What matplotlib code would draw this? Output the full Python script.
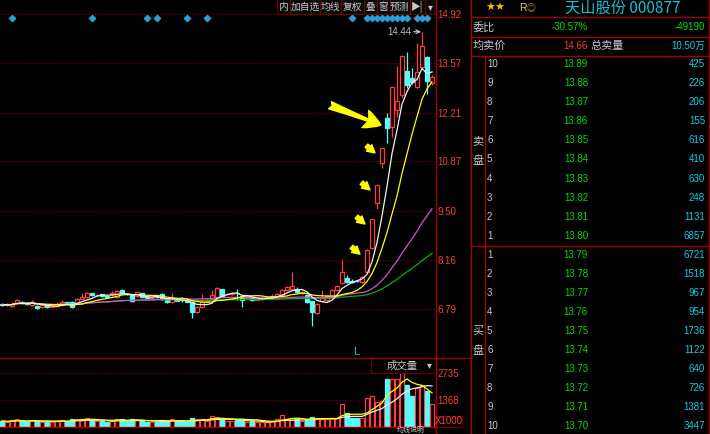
import numpy as np
import pandas as pd
import matplotlib
matplotlib.use("Agg")
import matplotlib.pyplot as plt
from matplotlib.patches import Rectangle

plt.rcParams['font.family'] = ['Noto Sans CJK SC', 'DejaVu Sans']
NUM = ['Liberation Sans', 'Noto Sans CJK SC', 'DejaVu Sans']

# daily candles, oldest first
opens = [6.93, 6.90, 6.88, 6.96, 7.00, 6.96, 6.90, 6.88, 6.85, 6.90,
         6.86, 6.89, 6.90, 6.98, 6.99, 6.96, 7.08, 7.12, 7.23, 7.18,
         7.20, 7.17, 7.21, 7.12, 7.32, 7.22, 7.18, 7.15, 7.23, 7.13,
         7.11, 7.13, 7.21, 7.04, 6.99, 7.06, 7.05, 7.04, 6.99, 6.71,
         6.85, 7.02, 7.07, 7.12, 7.34, 7.20, 7.21, 7.24, 7.15, 7.10,
         7.10, 7.06, 7.08, 7.11, 7.14, 7.15, 7.18, 7.32, 7.35, 7.35,
         7.24, 7.18, 7.01, 6.68, 7.01, 7.04, 7.12, 7.32, 7.51, 7.65,
         7.58, 7.58, 7.54, 7.81, 8.47, 9.71, 10.82, 12.05, 11.81, 12.28,
         12.69, 13.35, 13.16, 12.91, 13.46, 13.74, 13.02]
highs = [6.95, 6.96, 7.00, 7.08, 7.02, 6.98, 7.04, 6.90, 6.92, 6.92,
         6.90, 7.00, 7.04, 7.00, 7.01, 7.09, 7.23, 7.28, 7.25, 7.22,
         7.22, 7.19, 7.30, 7.31, 7.36, 7.24, 7.20, 7.28, 7.25, 7.15,
         7.15, 7.16, 7.24, 7.06, 7.23, 7.08, 7.12, 7.06, 7.01, 6.88,
         7.21, 7.10, 7.32, 7.40, 7.36, 7.24, 7.27, 7.34, 7.17, 7.15,
         7.12, 7.10, 7.16, 7.15, 7.20, 7.23, 7.34, 7.42, 7.81, 7.40,
         7.30, 7.20, 7.03, 6.96, 7.32, 7.18, 7.34, 7.46, 8.16, 7.74,
         7.62, 7.60, 7.70, 8.44, 9.27, 10.21, 11.23, 12.19, 12.93, 13.49,
         13.78, 13.87, 13.43, 14.12, 14.44, 13.76, 13.25]
lows = [6.88, 6.88, 6.86, 6.94, 6.94, 6.90, 6.88, 6.80, 6.83, 6.83,
        6.84, 6.86, 6.88, 6.94, 6.82, 6.94, 7.06, 7.10, 7.16, 7.14,
        7.14, 7.12, 7.16, 7.10, 7.21, 7.18, 6.99, 7.13, 7.10, 7.09,
        7.09, 7.10, 7.04, 6.97, 6.96, 7.01, 6.98, 6.98, 6.55, 6.68,
        6.83, 7.00, 7.05, 7.10, 7.13, 7.18, 7.19, 7.04, 6.85, 7.08,
        7.02, 7.04, 7.06, 7.09, 7.10, 7.13, 7.16, 7.30, 7.33, 7.24,
        7.22, 6.97, 6.33, 6.65, 6.99, 7.02, 7.10, 7.30, 7.48, 7.52,
        7.52, 7.53, 7.52, 7.79, 8.45, 9.55, 10.68, 11.37, 11.53, 12.08,
        12.60, 12.90, 13.00, 12.88, 13.40, 12.72, 12.98]
closes = [6.90, 6.93, 6.93, 7.04, 6.96, 6.93, 6.99, 6.82, 6.90, 6.85,
          6.88, 6.90, 6.99, 6.96, 6.85, 7.07, 7.12, 7.23, 7.18, 7.18,
          7.17, 7.14, 7.24, 7.29, 7.23, 7.20, 7.01, 7.26, 7.12, 7.11,
          7.13, 7.12, 7.07, 6.99, 7.10, 7.03, 7.04, 7.00, 6.71, 6.85,
          6.99, 7.05, 7.18, 7.37, 7.15, 7.21, 7.24, 7.23, 7.04, 7.12,
          7.04, 7.08, 7.10, 7.12, 7.15, 7.21, 7.32, 7.40, 7.43, 7.26,
          7.27, 6.99, 6.71, 6.93, 7.10, 7.15, 7.32, 7.43, 7.81, 7.54,
          7.55, 7.56, 7.68, 8.42, 9.27, 10.21, 11.23, 11.78, 12.91, 12.52,
          13.76, 12.96, 13.05, 13.32, 14.04, 13.07, 13.18]
volumes = [300, 260, 330, 380, 280, 250, 350, 320, 260, 280,
           240, 300, 360, 270, 380, 420, 400, 450, 330, 300,
           280, 260, 300, 400, 380, 290, 380, 360, 340, 250,
           240, 260, 350, 300, 380, 280, 300, 260, 450, 380,
           420, 300, 560, 520, 420, 300, 280, 350, 400, 260,
           280, 230, 250, 240, 280, 380, 600, 420, 455, 380,
           300, 400, 500, 420, 420, 380, 450, 450, 1165, 710,
           455, 455, 455, 1470, 1570, 1265, 1315, 2430, 2430, 2430,
           2735, 2125, 1570, 1950, 2150, 1820, 1165]

price_ticks = [14.92, 13.57, 12.21, 10.87, 9.50, 8.16, 6.79]
vol_ticks = [2735, 1368]
signal_days = [2, 18, 29, 31, 37, 41, 70, 73, 74, 75, 76, 77, 78, 79, 80, 81, 83, 84, 85]
arrow_days = [73, 74, 75, 76]
big_arrow_day = 77

toolbar = ["内", "加自选", "均线", "复权", "叠", "窗", "预测", "▶|", "▾"]
stock_name = "天山股份 000877"
wei_bi, wei_cha = "-30.57%", "-49190"
avg_ask, total_ask = "14.66", "10.50万"
ask_levels = [10, 9, 8, 7, 6, 5, 4, 3, 2, 1]
ask_prices = [13.89, 13.88, 13.87, 13.86, 13.85, 13.84, 13.83, 13.82, 13.81, 13.80]
ask_vols = [425, 226, 206, 155, 616, 410, 630, 248, 1131, 6857]
bid_levels = [1, 2, 3, 4, 5, 6, 7, 8, 9, 10]
bid_prices = [13.79, 13.78, 13.77, 13.76, 13.75, 13.74, 13.73, 13.72, 13.71, 13.70]
bid_vols = [6721, 1518, 967, 954, 1736, 1122, 640, 726, 1381, 3447]

W, H = 710, 434
RED = '#ff3c3c'
CYAN = '#54fcfc'
LINE = '#a00000'
DOT = '#7a0000'
GREEN_TXT = '#00dc00'
CYAN_TXT = '#18c8e6'
GRAY = '#c8c8c8'

fig = plt.figure(figsize=(W / 100, H / 100), dpi=100, facecolor='black')


def box(x0, y0, x1, y1):
    return [x0 / W, 1 - y1 / H, (x1 - x0) / W, (y1 - y0) / H]


ax = fig.add_axes(box(0, 0, 435, 358))
axv = fig.add_axes(box(0, 358, 435, 427))
for a in (ax, axv):
    a.set_facecolor('black')
    for s in a.spines.values():
        s.set_visible(False)
    a.set_xticks([])
    a.yaxis.tick_right()
    a.tick_params(axis='y', length=0, pad=2, labelcolor=RED, labelsize=7)

n = len(closes)
x = np.arange(n)
o, h, l, c = map(np.array, (opens, highs, lows, closes))
up = c >= o

# price scale: 14.92 sits on pixel row 14.3, 6.79 on row 309.3
ppy = (309.3 - 14.3) / (price_ticks[0] - price_ticks[-1])
ax.set_ylim(price_ticks[-1] - (358 - 309.3) / ppy, price_ticks[0] + 14.3 / ppy)
ax.set_xlim(-0.4, n - 0.4)
ax.set_yticks(price_ticks)
ax.set_yticklabels([f'{t:.2f}' for t in price_ticks], fontfamily=NUM)
for t in price_ticks:
    ax.axhline(t, color=DOT, lw=0.8, ls=(0, (1, 1.5)), zorder=1)

# candles: hollow red up days, solid cyan down days
ax.vlines(x, l, h, colors=np.where(up, RED, CYAN), lw=0.9, zorder=2)
body = np.maximum(np.abs(c - o), 0.01)
ax.bar(x, body, bottom=np.minimum(o, c), width=0.78,
       color=np.where(up, 'black', CYAN), edgecolor=np.where(up, RED, CYAN), lw=0.9, zorder=3)

cs = pd.Series(closes)
for w, col in [(60, '#00b400'), (30, '#d850d8'), (10, '#ffff00'), (5, '#f0f0f0')]:
    ax.plot(x, cs.rolling(w, min_periods=1).mean(), color=col, lw=0.9, zorder=4)

diamond_y = price_ticks[0] - (17.5 - 14.3) / ppy
ax.scatter(signal_days, [diamond_y] * len(signal_days), marker='D', s=10, color='#2a9fd6', zorder=5)

imax = int(np.argmax(h))
ax.annotate(f'{h[imax]:.2f}', xy=(imax - 0.2, h[imax]), xytext=(imax - 2.2, h[imax]),
            ha='right', va='center', color='#b0b8c8', fontsize=7, fontfamily=NUM,
            arrowprops=dict(arrowstyle='->', color='#d0d0d0', lw=0.8, shrinkA=0, shrinkB=0))

for d in arrow_days:
    ax.annotate('', xy=(d - 1.4, h[d] - 0.13), xytext=(d - 3.1, h[d] + 0.07),
                arrowprops=dict(arrowstyle='simple,head_length=0.5,head_width=0.55,tail_width=0.28',
                                color='#ffff00', mutation_scale=11, shrinkA=0, shrinkB=0), zorder=6)
bd = big_arrow_day
ax.annotate('', xy=(bd - 1.2, (o[bd] + c[bd]) / 2 - 0.05), xytext=(bd - 11.4, (o[bd] + c[bd]) / 2 + 0.5),
            arrowprops=dict(arrowstyle='fancy,head_length=0.55,head_width=0.6,tail_width=0.25',
                            color='#ffff00', mutation_scale=22, shrinkA=0, shrinkB=0), zorder=6)

# volume
axv.set_xlim(-0.4, n - 0.4)
axv.set_ylim(0, vol_ticks[0] * (427 - 358) / (427 - 373))
axv.set_yticks(vol_ticks)
axv.set_yticklabels([str(v) for v in vol_ticks], fontfamily=NUM)
for t in vol_ticks:
    axv.axhline(t, color=DOT, lw=0.8, ls=(0, (1, 1.5)), zorder=1)
axv.bar(x, volumes, width=0.78, color=np.where(up, 'black', CYAN),
        edgecolor=np.where(up, RED, CYAN), lw=0.9, zorder=3)
vs = pd.Series(volumes)
axv.plot(x, vs.rolling(10, min_periods=1).mean(), color='#f0f0f0', lw=0.9, zorder=4)
axv.plot(x, vs.rolling(5, min_periods=1).mean(), color='#ffff00', lw=0.9, zorder=4)

# overlay in pixel coordinates for frame, toolbar and quote panel
ov = fig.add_axes([0, 0, 1, 1])
ov.set_xlim(0, W)
ov.set_ylim(H, 0)
ov.axis('off')
ov.patch.set_visible(False)


def hline(y, x0, x1):
    ov.plot([x0, x1], [y, y], color=LINE, lw=1)


def vline(xx, y0, y1):
    ov.plot([xx, xx], [y0, y1], color=LINE, lw=1)


vline(435.5, 0, H)
vline(471, 0, H)
vline(709, 0, H)
vline(485, 56, H)
hline(358, 0, 471)
hline(427, 0, 436)
for y in (17, 36.5, 56, 245.5):
    hline(y, 471, 709)

seps = [277, 290, 320, 340.5, 363.5, 377, 389.5, 410, 424.5, 436]
for lab, a, b in zip(toolbar, seps[:-1], seps[1:]):
    ov.add_patch(Rectangle((a, -1), b - a, 15, facecolor='#0a0a0a', edgecolor='#700000', lw=0.8))
    ov.text((a + b) / 2, 7, lab, color=GRAY, fontsize=7, ha='center', va='center')

ov.add_patch(Rectangle((371, 358), 65, 15, facecolor='black', edgecolor='#700000', lw=0.8))
ov.text(402, 366, "成交量", color=GRAY, fontsize=7.5, ha='center', va='center')
ov.text(429, 365, "▾", color=GRAY, fontsize=7, ha='center', va='center')
ov.add_patch(Rectangle((436, 416), 26, 11, facecolor='black', edgecolor='#700000', lw=0.8))
ov.text(449, 421.5, "X1000", color=RED, fontsize=7, ha='center', va='center', fontfamily=NUM)
ov.text(356, 352, "L", color='#18c8e6', fontsize=8, ha='center', va='center', fontfamily=NUM)
ov.text(411, 430.3, "均线说明", color=GRAY, fontsize=5, ha='center', va='center')

# quote panel
ov.text(485, 8, "★★", color='#f0c000', fontsize=8, va='center', fontfamily=['DejaVu Sans'])
ov.text(519, 8, "R", color='#e8c860', fontsize=7.5, va='center', fontfamily=NUM)
ov.text(527, 8, "◎", color='#a08040', fontsize=6.5, va='center')
ov.text(565, 8, stock_name, color='#10c0d8', fontsize=11, va='center')

ov.text(473, 27, "委比", color=GRAY, fontsize=8, va='center')
ov.text(588, 27, wei_bi, color=GREEN_TXT, fontsize=7, ha='right', va='center', fontfamily=NUM)
ov.text(705, 27, wei_cha, color=GREEN_TXT, fontsize=7, ha='right', va='center', fontfamily=NUM)
ov.text(473, 46, "均卖价", color=GRAY, fontsize=8, va='center')
ov.text(588, 46, avg_ask, color=RED, fontsize=7, ha='right', va='center', fontfamily=NUM)
ov.text(590, 46, "总卖量", color=GRAY, fontsize=8, va='center')
ov.text(705, 46, total_ask, color=CYAN_TXT, fontsize=7, ha='right', va='center', fontfamily=NUM)

for k, (lv, p, v) in enumerate(zip(ask_levels, ask_prices, ask_vols)):
    y = 64 + 19.1 * k
    ov.text(487, y, str(lv), color=GRAY, fontsize=7, va='center', fontfamily=NUM)
    ov.text(588, y, f'{p:.2f}', color=GREEN_TXT, fontsize=7, ha='right', va='center', fontfamily=NUM)
    ov.text(705, y, str(v), color=CYAN_TXT, fontsize=7, ha='right', va='center', fontfamily=NUM)
for k, (lv, p, v) in enumerate(zip(bid_levels, bid_prices, bid_vols)):
    y = 255 + 19.0 * k
    ov.text(487, y, str(lv), color=GRAY, fontsize=7, va='center', fontfamily=NUM)
    ov.text(588, y, f'{p:.2f}', color=GREEN_TXT, fontsize=7, ha='right', va='center', fontfamily=NUM)
    ov.text(705, y, str(v), color=CYAN_TXT, fontsize=7, ha='right', va='center', fontfamily=NUM)

for ch, y in [("卖", 141), ("盘", 161), ("买", 331), ("盘", 351)]:
    ov.text(478, y, ch, color=GRAY, fontsize=8, ha='center', va='center')

fig.savefig('out.png', dpi=100, facecolor='black')
